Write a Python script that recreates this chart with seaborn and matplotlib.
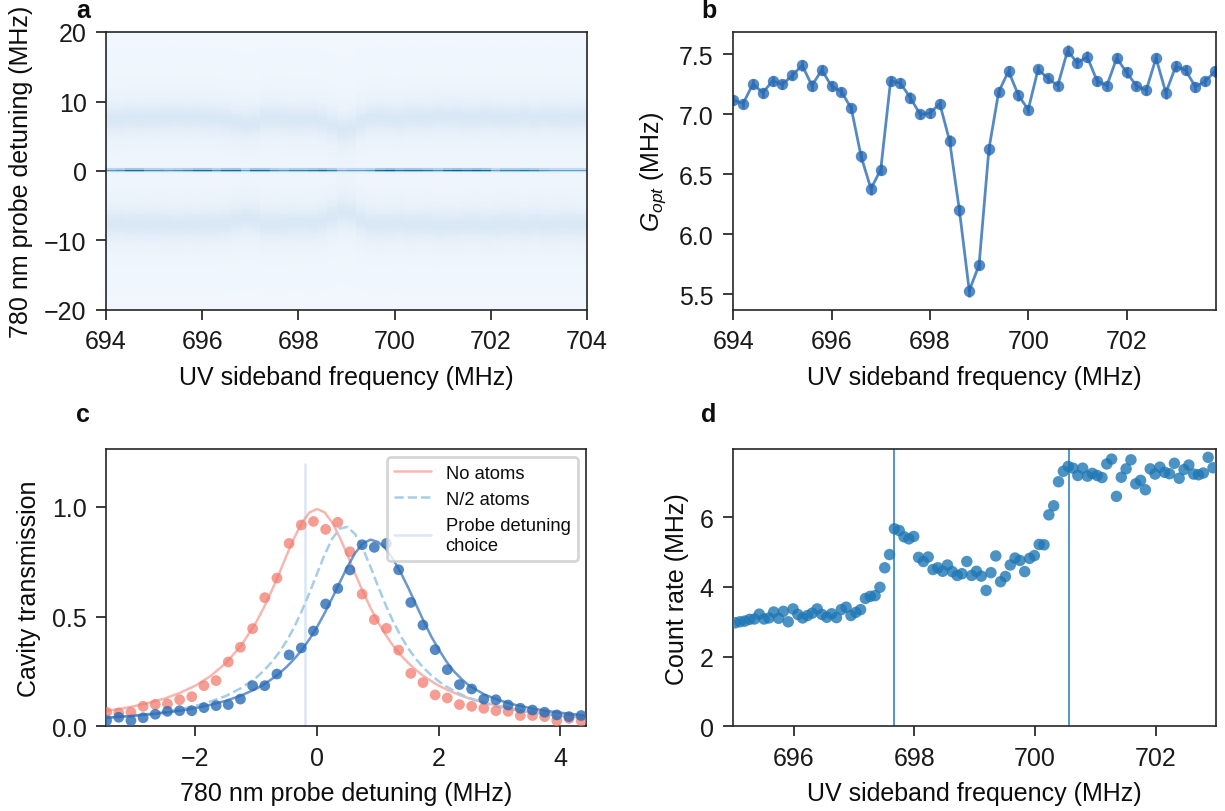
import numpy as np
import matplotlib
matplotlib.use("Agg")
import matplotlib.pyplot as plt
import seaborn as sns
from matplotlib.lines import Line2D

# ---------------- data ----------------
# panel b: G_opt vs UV sideband frequency
b_freq = [694.0, 694.2, 694.4, 694.6, 694.8, 695.0, 695.2, 695.4, 695.6, 695.8,
          696.0, 696.2, 696.4, 696.6, 696.8, 697.0, 697.2, 697.4, 697.6, 697.8,
          698.0, 698.2, 698.4, 698.6, 698.8, 699.0, 699.2, 699.4, 699.6, 699.8,
          700.0, 700.2, 700.4, 700.6, 700.8, 701.0, 701.2, 701.4, 701.6, 701.8,
          702.0, 702.2, 702.4, 702.6, 702.8, 703.0, 703.2, 703.4, 703.6, 703.8]
b_gopt = [7.12, 7.09, 7.255, 7.18, 7.28, 7.25, 7.325, 7.41, 7.24, 7.37,
          7.235, 7.19, 7.05, 6.65, 6.38, 6.54, 7.28, 7.26, 7.14, 7.00,
          7.01, 7.09, 6.78, 6.20, 5.53, 5.745, 6.71, 7.19, 7.36, 7.16,
          7.04, 7.375, 7.30, 7.24, 7.53, 7.43, 7.48, 7.28, 7.24, 7.47,
          7.35, 7.24, 7.20, 7.47, 7.18, 7.40, 7.37, 7.23, 7.275, 7.36]
b_err = [0.04, 0.04, 0.04, 0.04, 0.04, 0.04, 0.04, 0.045, 0.045, 0.04,
         0.04, 0.04, 0.04, 0.045, 0.05, 0.045, 0.04, 0.04, 0.045, 0.04,
         0.04, 0.04, 0.045, 0.045, 0.05, 0.045, 0.045, 0.04, 0.045, 0.045,
         0.04, 0.04, 0.04, 0.04, 0.045, 0.045, 0.045, 0.04, 0.04, 0.045,
         0.045, 0.04, 0.04, 0.045, 0.05, 0.045, 0.045, 0.04, 0.04, 0.045]

# panel a: heatmap parameters (bands at +/- G_opt, central probe line)
hm_background = 0.03
hm_band_amp = 0.12
hm_band_width = 2.0
hm_band_offset = 0.4
hm_center_pos = 0.1
hm_center_width = 0.22
hm_center_amp = [0.55, 0.60, 0.75, 0.75, 0.60, 0.60, 0.55, 0.60, 0.65, 0.75,
                 0.75, 0.60, 0.75, 0.75, 0.50, 0.75, 0.75, 0.60, 0.55, 0.65,
                 0.65, 0.70, 0.75, 0.65, 0.45, 0.50, 0.50, 0.55, 0.75, 0.80,
                 0.70, 0.75, 0.75, 0.70, 0.60, 0.75, 0.80, 0.75, 0.80, 0.75,
                 0.50, 0.65, 0.65, 0.70, 0.65, 0.55, 0.50, 0.50, 0.50, 0.50]

# panel c: cavity transmission data
c_det = [-3.46, -3.26, -3.06, -2.86, -2.66, -2.46, -2.26, -2.06, -1.86, -1.66,
         -1.46, -1.26, -1.06, -0.86, -0.66, -0.46, -0.26, -0.06, 0.14, 0.34,
         0.54, 0.74, 0.94, 1.14, 1.34, 1.54, 1.74, 1.94, 2.14, 2.34,
         2.54, 2.74, 2.94, 3.14, 3.34, 3.54, 3.74, 3.94, 4.14, 4.34]
c_no_atoms = [0.064, 0.061, 0.064, 0.091, 0.100, 0.102, 0.121, 0.135, 0.185, 0.208,
              0.293, 0.360, 0.445, 0.586, 0.675, 0.833, 0.917, 0.933, 0.897, 0.929,
              0.795, 0.602, 0.486, 0.446, 0.347, 0.241, 0.199, 0.143, 0.129, 0.099,
              0.091, 0.082, 0.071, 0.068, 0.049, 0.049, 0.044, 0.026, 0.036, 0.026]
c_atoms = [0.026, 0.041, 0.026, 0.039, 0.055, 0.068, 0.071, 0.071, 0.085, 0.094,
           0.099, 0.124, 0.185, 0.185, 0.238, 0.325, 0.357, 0.434, 0.557, 0.628,
           0.712, 0.827, 0.815, 0.833, 0.713, 0.564, 0.461, 0.349, 0.258, 0.190,
           0.170, 0.124, 0.121, 0.097, 0.082, 0.074, 0.064, 0.052, 0.044, 0.049]
# panel c: fitted curves
c_fit_x = [-3.5, -3.25, -3.0, -2.75, -2.5, -2.25, -2.0, -1.75, -1.5, -1.25,
           -1.0, -0.875, -0.75, -0.625, -0.5, -0.375, -0.25, -0.125, 0.0, 0.125,
           0.25, 0.375, 0.5, 0.625, 0.75, 0.875, 1.0, 1.125, 1.25, 1.375,
           1.5, 1.625, 1.75, 1.875, 2.0, 2.125, 2.25, 2.375, 2.5, 2.75,
           3.0, 3.25, 3.5, 3.75, 4.0, 4.25, 4.5]
c_fit_no_atoms = [0.069, 0.079, 0.092, 0.108, 0.127, 0.153, 0.185, 0.229, 0.288, 0.367,
                  0.475, 0.541, 0.615, 0.695, 0.779, 0.859, 0.927, 0.974, 0.990, 0.974,
                  0.927, 0.859, 0.779, 0.695, 0.615, 0.541, 0.475, 0.417, 0.367, 0.324,
                  0.288, 0.256, 0.229, 0.206, 0.185, 0.168, 0.153, 0.139, 0.127, 0.108,
                  0.092, 0.079, 0.069, 0.061, 0.054, 0.048, 0.043]
c_fit_half = [0.038, 0.043, 0.050, 0.057, 0.066, 0.078, 0.093, 0.113, 0.138, 0.174,
              0.222, 0.254, 0.291, 0.336, 0.389, 0.452, 0.526, 0.608, 0.696, 0.783,
              0.855, 0.901, 0.908, 0.875, 0.811, 0.728, 0.639, 0.554, 0.477, 0.411,
              0.354, 0.306, 0.266, 0.233, 0.205, 0.181, 0.161, 0.144, 0.129, 0.106,
              0.088, 0.074, 0.063, 0.055, 0.047, 0.042, 0.037]
c_fit_atoms = [0.038, 0.043, 0.048, 0.054, 0.062, 0.071, 0.083, 0.098, 0.116, 0.140,
               0.171, 0.191, 0.214, 0.240, 0.271, 0.307, 0.348, 0.397, 0.453, 0.516,
               0.585, 0.657, 0.727, 0.789, 0.832, 0.850, 0.840, 0.810, 0.760, 0.700,
               0.630, 0.555, 0.480, 0.410, 0.350, 0.295, 0.250, 0.215, 0.185, 0.145,
               0.118, 0.098, 0.083, 0.071, 0.062, 0.054, 0.047]
c_probe_choice = -0.2
c_labels = ["No atoms", "N/2 atoms", "Probe detuning\nchoice"]

# panel d: count rate vs UV sideband frequency
d_freq = [695.03, 695.11, 695.19, 695.27, 695.35, 695.43, 695.51, 695.59, 695.67, 695.75,
          695.83, 695.91, 695.99, 696.07, 696.15, 696.23, 696.31, 696.39, 696.47, 696.55,
          696.63, 696.71, 696.79, 696.87, 696.95, 697.03, 697.11, 697.19, 697.27, 697.35,
          697.43, 697.51, 697.59, 697.67, 697.75, 697.83, 697.91, 697.99, 698.07, 698.15,
          698.23, 698.31, 698.39, 698.47, 698.55, 698.63, 698.71, 698.79, 698.87, 698.95,
          699.03, 699.11, 699.19, 699.27, 699.35, 699.43, 699.51, 699.59, 699.67, 699.75,
          699.83, 699.91, 699.99, 700.07, 700.15, 700.23, 700.31, 700.39, 700.47, 700.55,
          700.63, 700.71, 700.79, 700.87, 700.95, 701.03, 701.11, 701.19, 701.27, 701.35,
          701.43, 701.51, 701.59, 701.67, 701.75, 701.83, 701.91, 701.99, 702.07, 702.15,
          702.23, 702.31, 702.39, 702.47, 702.55, 702.63, 702.71, 702.79, 702.87, 702.95]
d_rate = [2.97, 3.00, 3.02, 3.07, 3.08, 3.22, 3.08, 3.11, 3.28, 3.10,
          3.30, 3.00, 3.37, 3.21, 3.11, 3.18, 3.25, 3.37, 3.21, 3.13,
          3.23, 3.12, 3.35, 3.42, 3.18, 3.27, 3.35, 3.67, 3.73, 3.75,
          3.99, 4.55, 4.93, 5.67, 5.62, 5.44, 5.38, 5.45, 4.85, 4.73,
          4.86, 4.50, 4.55, 4.45, 4.63, 4.44, 4.33, 4.38, 4.73, 4.33,
          4.45, 4.31, 3.90, 4.41, 4.89, 4.15, 4.30, 4.63, 4.83, 4.76,
          4.44, 4.82, 4.90, 5.22, 5.21, 6.07, 6.33, 7.02, 7.32, 7.46,
          7.41, 7.20, 7.41, 7.18, 7.26, 7.20, 7.14, 7.53, 7.67, 6.60,
          7.15, 7.39, 7.65, 6.96, 7.06, 6.79, 7.39, 7.24, 7.44, 7.29,
          7.25, 7.55, 7.12, 7.37, 7.50, 7.24, 7.22, 7.27, 7.72, 7.42]
d_vlines = [697.67, 700.56]

# ---------------- style ----------------
sns.set_theme(style="ticks")
plt.rcParams['font.family'] = ['Liberation Sans', 'DejaVu Sans']
plt.rcParams.update({
    'font.size': 9, 'axes.labelsize': 9, 'xtick.labelsize': 9, 'ytick.labelsize': 9,
    'axes.linewidth': 0.6, 'xtick.major.width': 0.6, 'ytick.major.width': 0.6,
    'xtick.major.size': 3.5, 'ytick.major.size': 3.5,
    'axes.edgecolor': '0.15', 'xtick.color': '0.1', 'ytick.color': '0.1',
    'text.color': '0.05', 'axes.labelcolor': '0.05',
    'mathtext.fontset': 'custom', 'mathtext.rm': 'Liberation Sans',
    'mathtext.it': 'Liberation Sans:italic',
})

BLUE = '#2b6cb5'
RED = '#f27c6f'
LIGHTBLUE = '#a6cde8'
VCOL = '#d9e7f5'
DBLUE = '#1f77b4'

fig = plt.figure(figsize=(6.125, 4.06), dpi=200)
W, H = 1225.0, 812.0
axa = fig.add_axes([106 / W, 1 - 311 / H, 481 / W, 278 / H])
axb = fig.add_axes([733.3 / W, 1 - 311 / H, 482.7 / W, 278 / H])
axc = fig.add_axes([106 / W, 1 - 727.3 / H, 480 / W, 277.3 / H])
axd = fig.add_axes([733.3 / W, 1 - 727.3 / H, 482.7 / W, 277.3 / H])

# ---- panel a ----
x_edges = np.linspace(694, 704, len(b_gopt) + 1)
y_edges = np.linspace(-20, 20, 201)
yc = 0.5 * (y_edges[:-1] + y_edges[1:])[:, None]
G = np.array(b_gopt)[None, :] + hm_band_offset
Z = (hm_background
     + hm_band_amp / (1 + ((yc - G) / hm_band_width) ** 2)
     + hm_band_amp / (1 + ((yc + G) / hm_band_width) ** 2)
     + np.array(hm_center_amp)[None, :]
     * np.exp(-((yc - hm_center_pos) / hm_center_width) ** 2))
axa.pcolormesh(x_edges, y_edges, Z, cmap='Blues', vmin=0, vmax=1, shading='flat',
               rasterized=True)
axa.set_xlim(694, 704)
axa.set_ylim(-20, 20)
axa.set_xticks([694, 696, 698, 700, 702, 704])
axa.set_yticks([-20, -10, 0, 10, 20])
axa.set_xlabel('UV sideband frequency (MHz)')
axa.set_ylabel('780 nm probe detuning (MHz)')

# ---- panel b ----
sns.lineplot(x=b_freq, y=b_gopt, ax=axb, color=BLUE, lw=1.0, alpha=0.8, sort=False,
             marker='o', markersize=4.1, markeredgewidth=0)
axb.errorbar(b_freq, b_gopt, yerr=b_err, fmt='none', ecolor=BLUE, elinewidth=1.0,
             alpha=0.8, capsize=0)
axb.set_xlim(694.0, 703.82)
axb.set_ylim(5.369, 7.687)
axb.set_xticks([694, 696, 698, 700, 702])
axb.set_yticks([5.5, 6.0, 6.5, 7.0, 7.5])
axb.set_xlabel('UV sideband frequency (MHz)')
axb.set_ylabel('$G_{opt}$ (MHz)')

# ---- panel c ----
axc.vlines(c_probe_choice, 0, 1.2, color=VCOL, lw=0.9, zorder=1)
sns.lineplot(x=c_fit_x, y=c_fit_no_atoms, ax=axc, color=RED, alpha=0.55, lw=0.9, zorder=2)
sns.lineplot(x=c_fit_x, y=c_fit_half, ax=axc, color=LIGHTBLUE, lw=0.9, linestyle='--', zorder=2)
sns.scatterplot(x=c_det, y=c_no_atoms, ax=axc, color=RED, alpha=0.75, s=15,
                edgecolor='none', zorder=3)
sns.lineplot(x=c_fit_x, y=c_fit_atoms, ax=axc, color=BLUE, alpha=0.7, lw=0.9, zorder=4)
sns.scatterplot(x=c_det, y=c_atoms, ax=axc, color=BLUE, alpha=0.8, s=15,
                edgecolor='none', zorder=5)
axc.set_xlim(-3.47, 4.42)
axc.set_ylim(0, 1.263)
axc.set_xticks([-2, 0, 2, 4])
axc.set_yticks([0.0, 0.5, 1.0])
axc.set_xlabel('780 nm probe detuning (MHz)')
axc.set_ylabel('Cavity transmission')
handles = [Line2D([0], [0], color=RED, alpha=0.55, lw=0.9),
           Line2D([0], [0], color=LIGHTBLUE, lw=0.9, linestyle='--'),
           Line2D([0], [0], color=VCOL, lw=0.9)]
leg = axc.legend(handles, c_labels, loc='upper right', fontsize=6.6, frameon=True,
                 fancybox=True, framealpha=0.8, edgecolor='0.8',
                 borderaxespad=0.45, handlelength=2.0)
leg.set_zorder(10)

# ---- panel d ----
sns.scatterplot(x=d_freq, y=d_rate, ax=axd, color=DBLUE, alpha=0.8, s=17,
                edgecolor='none', zorder=3)
for v in d_vlines:
    axd.axvline(v, color=DBLUE, lw=0.6, alpha=0.9, zorder=2)
axd.set_xlim(695, 703)
axd.set_ylim(0, 7.96)
axd.set_xticks([696, 698, 700, 702])
axd.set_yticks([0, 2, 4, 6])
axd.set_xlabel('UV sideband frequency (MHz)')
axd.set_ylabel('Count rate (MHz)')

for ax in (axa, axb, axc, axd):
    for sp in ax.spines.values():
        sp.set_visible(True)
        sp.set_linewidth(0.6)

# panel letters
fig.text(76 / W, 1 - 18 / H, 'a', fontsize=9, fontweight='bold', va='baseline')
fig.text(701 / W, 1 - 18 / H, 'b', fontsize=9, fontweight='bold', va='baseline')
fig.text(76 / W, 1 - 422 / H, 'c', fontsize=9, fontweight='bold', va='baseline')
fig.text(701 / W, 1 - 422 / H, 'd', fontsize=9, fontweight='bold', va='baseline')

fig.savefig('out.png', dpi=200)
